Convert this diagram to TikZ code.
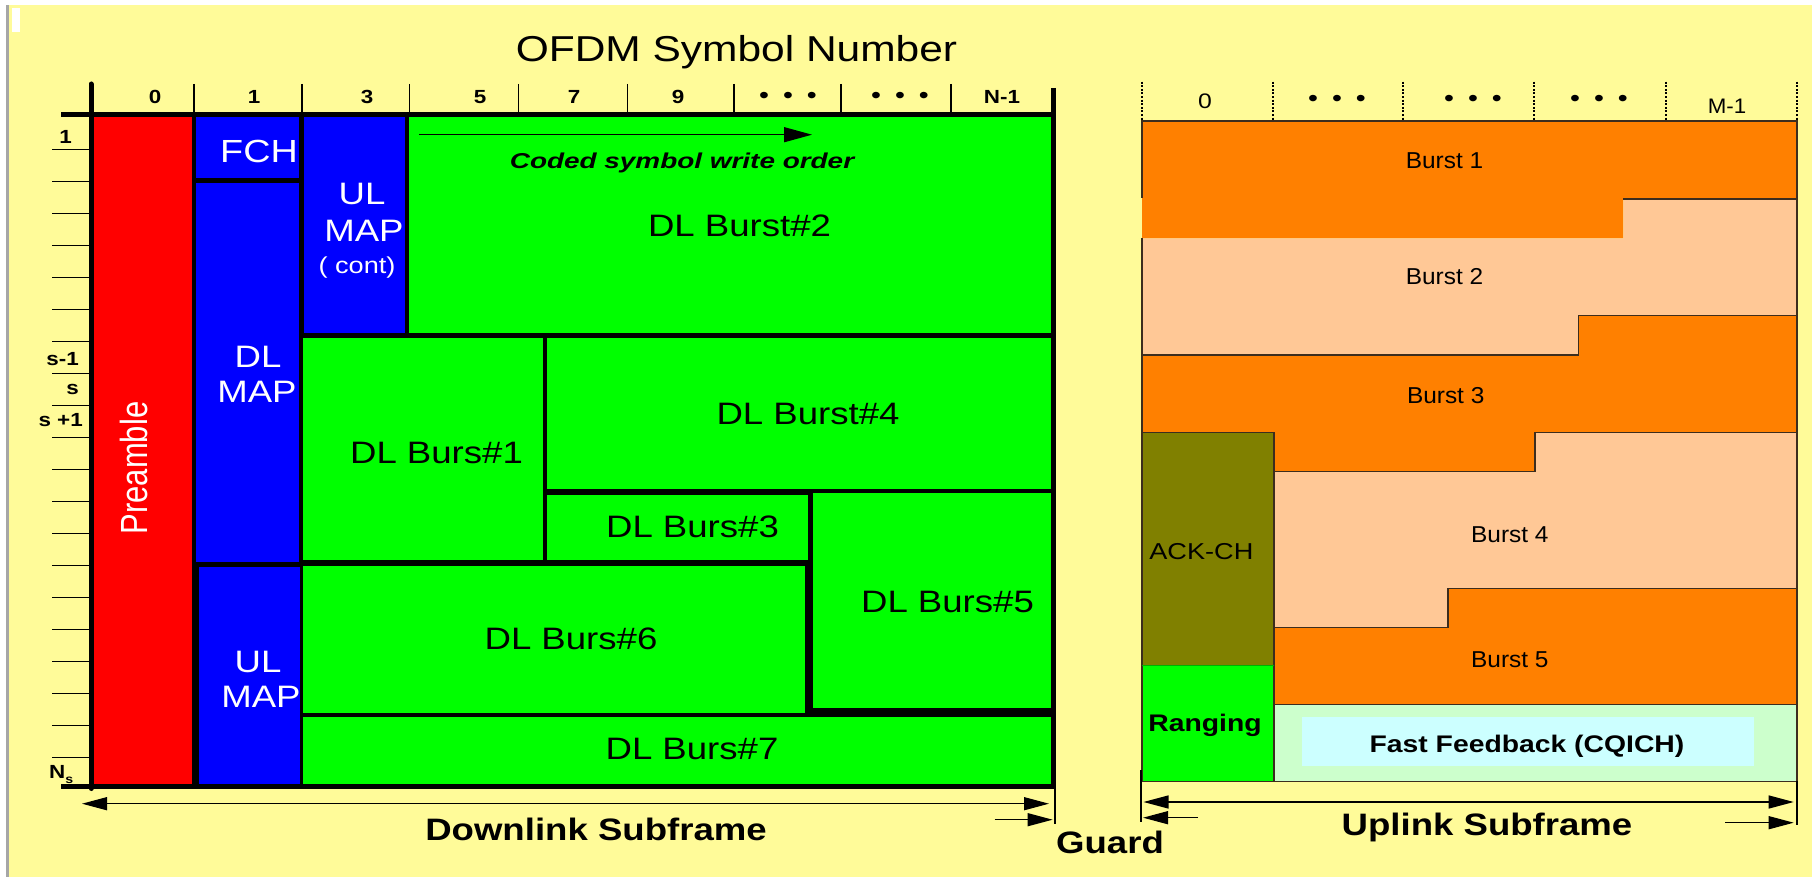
\documentclass[tikz,border=0pt]{standalone}
\usepackage{fontspec}
\setmainfont{Liberation Sans}[FakeStretch=1.18]
\newfontfamily\plainsans{Liberation Sans}
\usetikzlibrary{arrows.meta}
\definecolor{bgyellow}{RGB}{255,251,153}
\definecolor{pblue}{RGB}{0,0,255}
\definecolor{pred}{RGB}{255,0,0}
\definecolor{pgreen}{RGB}{0,255,0}
\definecolor{porange}{RGB}{255,128,0}
\definecolor{ppeach}{RGB}{255,200,150}
\definecolor{polive}{RGB}{128,128,0}
\definecolor{plgreen}{RGB}{204,255,204}
\definecolor{plcyan}{RGB}{204,255,255}
\definecolor{pline}{RGB}{60,45,30}
\newcommand{\fs}[1]{\fontsize{#1}{#1}\selectfont}
\tikzset{
 lbl/.style={inner sep=0pt, anchor=base, text=black},
 wlbl/.style={inner sep=0pt, anchor=base, text=white},
 axisline/.style={line width=5pt, black},
 thinline/.style={line width=1.4pt, black},
 ulline/.style={line width=1.5pt, draw=pline},
 dimarrow/.style={line width=1.3pt, {Triangle[length=25pt,width=13pt]}-{Triangle[length=25pt,width=13pt]}},
 onearrow/.style={line width=1.3pt, -{Triangle[length=25pt,width=13pt]}},
}
\begin{document}
\begin{tikzpicture}[x=1pt,y=-1pt]
\useasboundingbox (0,0) rectangle (1818,877);
\fill[white] (0,0) rectangle (1818,877);
\fill[bgyellow] (9,5) rectangle (1812,877);
\fill[gray!70] (5.5,5) rectangle (9,877);
\fill[white] (11.5,8) rectangle (20,32);

% title
\node[lbl] (title) at (736.5,61.5) {\fs{36}OFDM Symbol Number};

% ---------- left panel ----------
\fill[black] (88.5,112) rectangle (1055.5,788.5);
\fill[pred]   (93.5,117)  rectangle (191.5,783.5);
\fill[pblue]  (196,117)   rectangle (298.5,178.5);
\fill[pblue]  (196,183)   rectangle (298.5,562);
\fill[pblue]  (199,567)   rectangle (300,783.5);
\fill[pblue]  (304,117)   rectangle (405,333);
\fill[pgreen] (409,117)   rectangle (1050.5,333);
\fill[pgreen] (303,338.5) rectangle (542.5,560);
\fill[pgreen] (546.5,338.5) rectangle (1050.5,489);
\fill[pgreen] (546.5,494.5) rectangle (808,559.5);
\fill[pgreen] (813,493)   rectangle (1050.5,708);
\fill[pgreen] (303,565.5) rectangle (804.5,712.5);
\fill[pgreen] (303,717)   rectangle (1050.5,783.5);

\draw[axisline] (61,114.5) -- (1055.5,114.5);
\draw[axisline, line cap=round] (91,84) -- (91,788.5);
\draw[axisline] (1053,88) -- (1053,788.5);
\draw[axisline] (61,786) -- (1055.5,786);

\foreach \x in {194,302,409.5,518.6,627.4,734,841,951}
  \draw[thinline] (\x,84) -- (\x,113);
\foreach \k in {0,...,19}
  \draw[thinline] (52,{149.3+32*\k}) -- (89,{149.3+32*\k});

% header labels
\node[lbl] (h0) at (155,103.5) {\fs{19}\bfseries 0};
\node[lbl] (h1) at (254,103.5) {\fs{19}\bfseries 1};
\node[lbl] (h3) at (367,103.5) {\fs{19}\bfseries 3};
\node[lbl] (h5) at (480,103.5) {\fs{19}\bfseries 5};
\node[lbl] (h7) at (574,103.5) {\fs{19}\bfseries 7};
\node[lbl] (h9) at (678,103.5) {\fs{19}\bfseries 9};
\node[lbl, anchor=center] (hd1) at (788,97.7) {\fs{24}•\hspace{14pt}•\hspace{14pt}•};
\node[lbl, anchor=center] (hd2) at (900,97.7) {\fs{24}•\hspace{14pt}•\hspace{14pt}•};
\node[lbl] (hN) at (1002,103.5) {\fs{19}\bfseries N-1};

% row labels
\node[lbl, anchor=base east] (r1) at (72,144) {\fs{19}\bfseries 1};
\node[lbl, anchor=base east] (rs1) at (79,366) {\fs{19}\bfseries s-1};
\node[lbl, anchor=base east] (rs) at (79,394.3) {\fs{19}\bfseries s};
\node[lbl, anchor=base east] (rs2) at (83,426.7) {\fs{19}\bfseries s +1};
\node[lbl, anchor=base west] (rNs) at (49,778.7) {\fs{19}\bfseries N\raisebox{-5pt}{\fs{12}s}};

% block texts
\node[wlbl, anchor=center, rotate=90] (preamble) at (134,468) {\scalebox{1}[1.22]{\plainsans\fs{31}Preamble}};
\node[wlbl] (fch) at (259,162.2) {\fs{32}FCH};
\node[wlbl] (dlmap1) at (258,367) {\fs{31}DL};
\node[wlbl] (dlmap2) at (257,402.5) {\fs{31}MAP};
\node[wlbl] (ulc1) at (362,205) {\fs{31}UL};
\node[wlbl] (ulc2) at (364,241.5) {\fs{31}MAP};
\node[wlbl] (ulc3) at (357,273.3) {\fs{23}( cont)};
\node[wlbl] (ulm1) at (258,672) {\fs{31}UL};
\node[wlbl] (ulm2) at (261,707) {\fs{31}MAP};

\coordinate (wA) at (419,134.7);
\coordinate (wB) at (812,134.7);
\draw[line width=1.3pt, -{Triangle[length=28pt,width=15pt]}] (wA) -- (wB);
\node[lbl] (coded) at (682,168.3) {\scalebox{1.1}[1]{\fs{21.5}\bfseries\itshape Coded symbol write order}};

\node[lbl] (b2) at (739.5,237) {\fs{31}DL Burst\#2};
\node[lbl] (b1) at (436.5,463.3) {\fs{31}DL Burs\#1};
\node[lbl] (b4) at (808,424) {\fs{31}DL Burst\#4};
\node[lbl] (b3) at (692.5,537.7) {\fs{31}DL Burs\#3};
\node[lbl] (b5) at (947.5,612.7) {\fs{31}DL Burs\#5};
\node[lbl] (b6) at (571,649) {\fs{31}DL Burs\#6};
\node[lbl] (b7) at (692,759.3) {\fs{31}DL Burs\#7};

% downlink dimension
\coordinate (dlL) at (82,803.7);
\coordinate (dlR) at (1049,803.7);
\draw[dimarrow] (dlL) -- (dlR);
\node[lbl] (dls) at (596,840) {\fs{31}\bfseries Downlink Subframe};
\coordinate (gL1) at (994.7,819.7);
\coordinate (gL2) at (1052.6,819.7);
\draw[onearrow] (gL1) -- (gL2);
\coordinate (vL1) at (1055,788.7);
\coordinate (vL2) at (1055,823.7);
\draw[thinline, line width=1.2pt] (vL1) -- (vL2);
\node[lbl] (guard) at (1110,853) {\fs{31}\bfseries Guard};

% ---------- right panel ----------
\def\Xo{1142} \def\Xi{1274} \def\Xa{1623.4} \def\Xb{1578.5} \def\Xc{1535} \def\Xd{1448} \def\XR{1797}
\fill[porange] (\Xo,121) -- (\XR,121) -- (\XR,199) -- (\Xa,199) -- (\Xa,238.3) -- (\Xo,238.3) -- cycle;
\fill[ppeach] (\Xo,238.3) -- (\Xa,238.3) -- (\Xa,199) -- (\XR,199) -- (\XR,315.7) -- (\Xb,315.7) -- (\Xb,355) -- (\Xo,355) -- cycle;
\fill[porange] (\Xo,355) -- (\Xb,355) -- (\Xb,315.7) -- (\XR,315.7) -- (\XR,432.7) -- (\Xc,432.7) -- (\Xc,471.7) -- (\Xi,471.7) -- (\Xi,432.7) -- (\Xo,432.7) -- cycle;
\fill[polive] (\Xo,432.7) rectangle (\Xi,665.3);
\fill[ppeach] (\Xi,471.7) -- (\Xc,471.7) -- (\Xc,432.7) -- (\XR,432.7) -- (\XR,588.7) -- (\Xd,588.7) -- (\Xd,627.7) -- (\Xi,627.7) -- cycle;
\fill[porange] (\Xi,627.7) -- (\Xd,627.7) -- (\Xd,588.7) -- (\XR,588.7) -- (\XR,704.3) -- (\Xi,704.3) -- cycle;
\fill[pgreen] (\Xo,665.3) rectangle (\Xi,781.3);
\fill[plgreen] (\Xi,704.3) rectangle (\XR,781.3);
\fill[plcyan] (1302.4,717) rectangle (1753.8,766.3);

\draw[ulline] (\Xo,198) -- (\Xo,121) -- (\XR,121) -- (\XR,781.3) -- (\Xo,781.3) -- (\Xo,238.3);
\draw[ulline] (\Xa,199) -- (\XR,199);
\draw[ulline] (\Xo,355) -- (\Xb,355) -- (\Xb,315.7) -- (\XR,315.7);
\draw[ulline] (\Xo,432.7) -- (\Xi,432.7) -- (\Xi,471.7) -- (\Xc,471.7) -- (\Xc,432.7) -- (\XR,432.7);
\draw[ulline] (\Xi,432.7) -- (\Xi,781.3);
\draw[ulline] (\Xi,627.7) -- (\Xd,627.7) -- (\Xd,588.7) -- (\XR,588.7);
\draw[ulline] (\Xi,704.3) -- (\XR,704.3);
\draw[line width=1.5pt, draw=green!70!black] (\Xo,665.3) -- (\Xi,665.3);

\foreach \x in {1142,1272.6,1403,1534,1665.5,1797}
  \draw[line width=2pt, dash pattern=on 2pt off 1.6pt] (\x,81.7) -- (\x,120);

\node[lbl] (u0) at (1205,108.3) {\fs{21}0};
\node[lbl, anchor=center] (ud1) at (1337,101) {\fs{24}•\hspace{14pt}•\hspace{14pt}•};
\node[lbl, anchor=center] (ud2) at (1473,101) {\fs{24}•\hspace{14pt}•\hspace{14pt}•};
\node[lbl, anchor=center] (ud3) at (1599,101) {\fs{24}•\hspace{14pt}•\hspace{14pt}•};
\node[lbl] (uM) at (1727,113.3) {\scalebox{0.9}[1]{\fs{21}M-1}};

\node[lbl] (ub1) at (1444.5,168.3) {\scalebox{0.9}[1]{\fs{23}Burst 1}};
\node[lbl] (ub2) at (1444.5,284.3) {\scalebox{0.9}[1]{\fs{23}Burst 2}};
\node[lbl] (ub3) at (1445.7,403.3) {\scalebox{0.9}[1]{\fs{23}Burst 3}};
\node[lbl] (ack) at (1201.4,559.3) {\fs{23}ACK-CH};
\node[lbl] (ub4) at (1509.8,542.7) {\scalebox{0.9}[1]{\fs{23}Burst 4}};
\node[lbl] (ub5) at (1509.8,667.7) {\scalebox{0.9}[1]{\fs{23}Burst 5}};
\node[lbl] (rng) at (1205,731.3) {\fs{24}\bfseries Ranging};
\node[lbl] (ff) at (1527,752.7) {\fs{24}\bfseries Fast Feedback (CQICH)};

% uplink dimension
\coordinate (ulL) at (1143.5,802);
\coordinate (ulR) at (1793.7,802);
\draw[dimarrow] (ulL) -- (ulR);
\coordinate (vR1) at (1141,770);
\coordinate (vR2) at (1141,822);
\draw[thinline, line width=1.2pt] (vR1) -- (vR2);
\coordinate (gR1) at (1198,817.7);
\coordinate (gR2) at (1143,817.7);
\draw[onearrow] (gR1) -- (gR2);
\coordinate (sR1) at (1725,822.7);
\coordinate (sR2) at (1793.7,822.7);
\draw[onearrow] (sR1) -- (sR2);
\coordinate (vE1) at (1797,781);
\coordinate (vE2) at (1797,825);
\draw[thinline, line width=1.2pt] (vE1) -- (vE2);
\node[lbl] (uls) at (1487,835.3) {\fs{31}\bfseries Uplink Subframe};
\end{tikzpicture}
\end{document}
